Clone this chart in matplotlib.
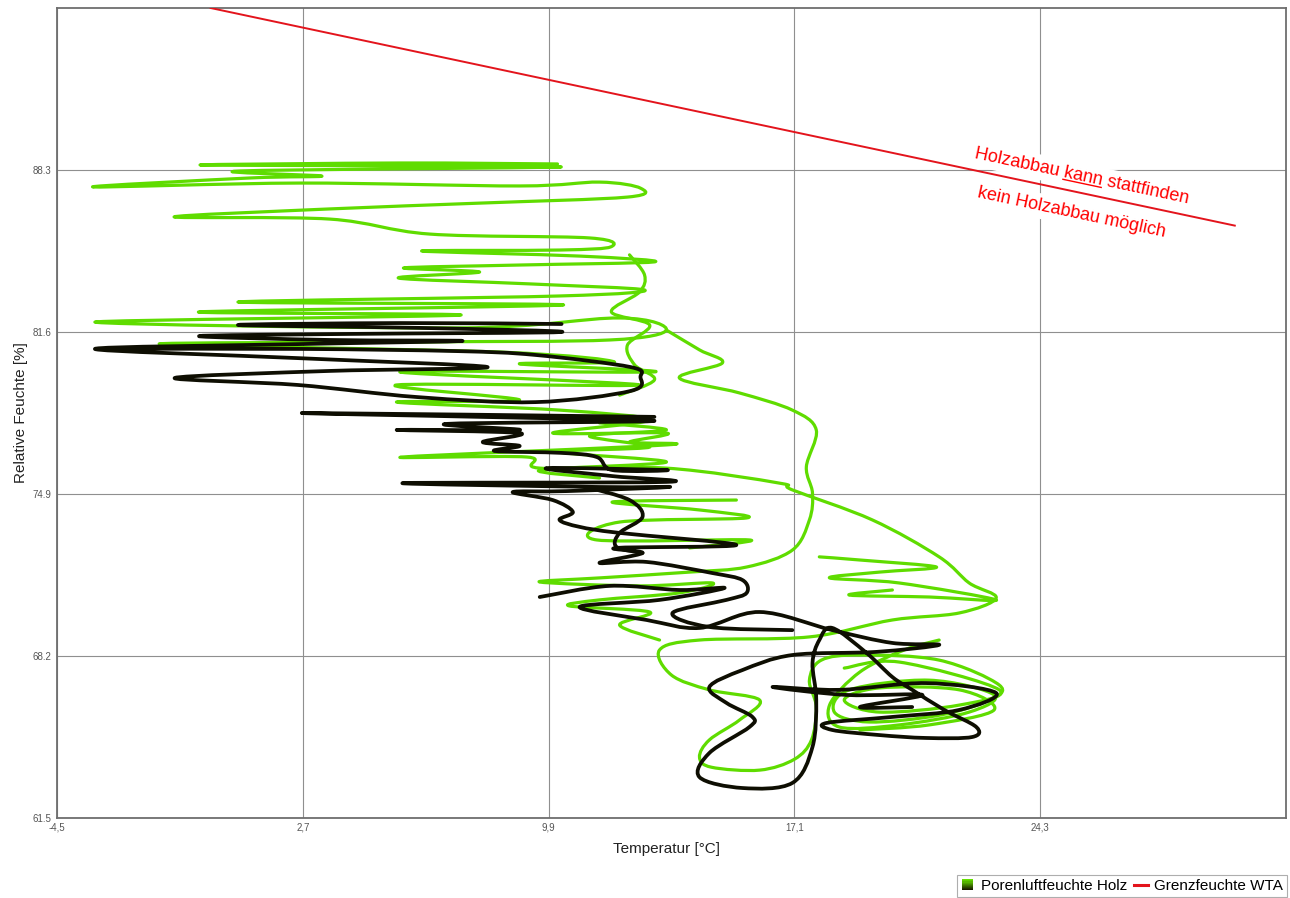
import numpy as np
import matplotlib
matplotlib.use("Agg")
import matplotlib.pyplot as plt
import matplotlib.colors as mcolors
from matplotlib.legend_handler import HandlerBase
from matplotlib.patches import Rectangle, Patch, PathPatch
from matplotlib.path import Path
from matplotlib.lines import Line2D

plt.rcParams['font.family'] = ['Liberation Sans', 'DejaVu Sans']

# ---------------------------------------------------------------------------
# Measured pore-air humidity in timber vs. temperature (hourly trajectory)
# ---------------------------------------------------------------------------
green_1_temp = [10.16, 5.54, -0.31, 5.54, 10.16, 0.86, 3.26, 1.15, -3.45, 2.61,
                9.05, 11.39, 12.59, 12.21, 7.88, 3.49, -1.07, 3.49, 6.42, 11.10,
                11.72, 10.22, 6.18, 10.81, 13.00, 9.05, 5.66, 7.88, 5.51, 9.34,
                12.71, 10.22, 0.80, 10.34, -0.34, 7.32, -3.39, 7.30, 11.98, 13.35,
                11.69, 6.12, -1.49, 8.47, 11.83, 9.05, 13.00, 5.54, 12.56, 5.45,
                9.05, 5.45, 10.22, 12.86, 10.02, 13.35, 12.27, 13.35, 5.63, 9.26,
                9.64, 13.35, 16.66, 17.04, 19.38, 21.34, 22.22, 23.01, 21.93, 19.97,
                17.54, 14.32, 13.15, 13.50, 14.61, 16.08, 15.49, 14.61, 14.32, 14.67,
                16.08, 17.10, 17.60, 17.74, 17.54, 17.89, 19.02, 21.34, 23.10, 22.81,
                21.34, 19.29, 18.27, 18.71, 21.05, 22.95, 22.22, 20.17, 18.42, 18.13,
                19.02, 20.32, 21.34]
green_1_rh = [88.55, 88.59, 88.51, 88.47, 88.42, 88.26, 88.05, 87.97, 87.60, 87.76,
              87.64, 87.80, 87.55, 87.18, 86.93, 86.69, 86.36, 86.27, 85.65, 85.49,
              85.12, 84.99, 84.95, 84.74, 84.50, 84.37, 84.25, 84.08, 83.83, 83.59,
              83.34, 83.09, 82.84, 82.72, 82.43, 82.30, 82.01, 81.77, 82.18, 81.68,
              81.27, 81.19, 81.10, 80.77, 80.36, 80.28, 79.95, 79.95, 79.41, 79.41,
              78.79, 78.70, 78.37, 77.96, 77.42, 77.42, 77.05, 76.93, 76.43, 76.43,
              75.97, 75.97, 75.35, 75.07, 73.83, 72.30, 71.22, 70.60, 69.98, 69.69,
              68.99, 68.86, 68.45, 67.41, 66.80, 66.38, 65.55, 64.73, 64.02, 63.60,
              63.48, 63.93, 64.73, 66.09, 67.20, 68.03, 68.24, 68.03, 67.00, 66.38,
              65.75, 65.47, 65.88, 66.80, 67.20, 66.59, 65.88, 65.35, 65.26, 66.17,
              67.54, 68.45, 68.86]

green_2_temp = [13.35, 14.32, 14.99, 13.73, 15.49, 17.04, 17.74, 17.45, 17.63, 17.54,
                17.04, 15.70, 14.03, 11.39, 9.64, 12.56, 14.70, 13.73, 11.39, 10.51,
                12.86, 11.98, 13.15]
green_2_rh = [81.68, 80.86, 80.32, 79.70, 79.08, 78.37, 77.55, 76.02, 74.94, 73.83,
              72.58, 71.88, 71.67, 71.43, 71.26, 71.10, 71.22, 70.81, 70.52, 70.27,
              70.02, 69.48, 68.86]

green_3_temp = [17.83, 19.02, 21.26, 19.59, 18.13, 20.17, 23.01, 21.05, 18.71, 19.97]
green_3_rh = [72.30, 72.17, 71.88, 71.67, 71.43, 71.22, 70.52, 70.64, 70.72, 70.93]

green_4_temp = [15.40, 11.77, 14.32, 15.70, 11.98, 11.31, 15.78, 14.03]
green_4_rh = [74.65, 74.57, 74.24, 73.91, 73.74, 73.00, 73.00, 72.67]

green_5_temp = [12.27, 12.71, 12.56, 11.74, 12.86, 12.21, 12.42, 13.00, 11.98]
green_5_rh = [84.79, 83.96, 83.25, 82.43, 81.89, 81.06, 80.24, 79.62, 78.99]

green_6_temp = [11.39, 13.35, 11.10, 12.86, 10.22, 13.35, 9.64, 11.39]
green_6_rh = [77.84, 77.55, 77.30, 76.84, 76.64, 76.22, 75.89, 75.56]

green_7_temp = [18.56, 20.17, 23.10, 21.93, 19.59, 18.56, 19.59, 21.93, 22.95, 21.05, 19.02]
green_7_rh = [67.70, 67.95, 66.80, 66.17, 65.88, 66.38, 66.88, 66.80, 65.97, 65.35, 65.14]

black_1_temp = [10.28, 5.54, 0.80, 6.12, 10.28, 4.08, -0.34, 3.49, 7.38, 2.61,
                -3.39, 2.55, 8.11, 3.49, -1.05, 2.55, 6.04, 9.52, 12.30, 12.59,
                12.30, 9.52, 7.21, 2.61, -2.95]
black_1_rh = [81.93, 81.97, 81.89, 81.77, 81.60, 81.52, 81.43, 81.27, 81.23, 81.10,
              80.90, 80.52, 80.15, 79.99, 79.70, 79.41, 78.91, 78.70, 79.16, 79.74,
              80.15, 80.65, 80.81, 80.90, 80.90]

black_2_temp = [13.00, 2.79, 7.88, 13.00, 6.92, 9.05, 5.45, 9.05, 7.97, 9.05,
                8.32, 10.28, 11.31, 11.77, 13.35, 9.84, 11.77, 13.35, 5.63, 11.39,
                13.44, 10.43, 8.85, 10.02, 10.61, 10.22, 10.81, 11.98, 15.40, 11.89,
                12.65, 11.39, 12.77, 14.70, 15.58, 15.70, 15.11, 13.53, 14.61, 17.04]
black_2_rh = [78.09, 78.25, 78.09, 77.92, 77.80, 77.55, 77.55, 77.42, 77.05, 76.89,
              76.68, 76.60, 76.43, 75.89, 75.89, 75.97, 75.64, 75.40, 75.35, 75.19,
              75.19, 75.02, 74.98, 74.65, 74.16, 73.83, 73.54, 73.29, 72.79, 72.67,
              72.46, 72.05, 72.09, 71.63, 71.34, 70.81, 70.52, 69.98, 69.40, 69.27]

black_3_temp = [9.64, 11.69, 13.73, 15.05, 13.15, 10.81, 12.77, 14.32, 16.08, 18.21,
                19.97, 21.34, 19.50, 17.04, 15.58, 14.61, 15.11, 15.87, 15.78, 14.61,
                14.32, 15.58, 17.04, 17.63, 17.74, 17.63, 17.83, 18.21, 19.21, 19.97,
                20.55, 21.49, 22.43, 22.31, 20.96, 19.59, 18.21, 18.04, 19.97, 21.93,
                23.01, 20.96, 18.42, 16.46, 18.62, 20.85, 19.02, 20.55]
black_3_rh = [70.64, 71.10, 70.93, 71.01, 70.52, 70.23, 69.69, 69.36, 70.02, 69.27,
              68.74, 68.66, 68.37, 68.24, 67.62, 66.92, 66.26, 65.68, 65.26, 64.19,
              63.19, 62.74, 62.95, 64.44, 66.38, 67.91, 68.86, 69.36, 68.33, 67.33,
              66.80, 65.97, 65.26, 64.85, 64.81, 64.93, 65.14, 65.43, 65.68, 65.97,
              66.67, 67.08, 66.80, 66.92, 66.59, 66.59, 66.09, 66.09]

black_4_temp = [11.01, 12.27, 12.65, 11.98, 11.89, 12.65]
black_4_rh = [75.19, 74.65, 73.95, 73.29, 72.71, 72.46]

# WTA limit humidity for wood decay
wta_temp = [0.0, 30.0]
wta_rh = [95.0, 86.0]

x_ticks = [-4.5, 2.7, 9.9, 17.1, 24.3]
x_tick_labels = ['-4,5', '2,7', '9,9', '17,1', '24,3']
y_ticks = [61.5, 68.2, 74.9, 81.6, 88.3]
y_tick_labels = ['61.5', '68.2', '74.9', '81.6', '88.3']

GREEN = '#5fdc00'
DARK = '#0e0e02'
RED = '#e3141c'


def smooth_path(xs, ys):
    """Cubic Bezier path passing through every reading (Catmull-Rom tangents)."""
    p = np.column_stack([xs, ys]).astype(float)
    ext = np.vstack([p[0], p, p[-1]])
    verts = [p[0]]
    codes = [Path.MOVETO]
    for i in range(len(p) - 1):
        p0, p1, p2, p3 = ext[i], ext[i + 1], ext[i + 2], ext[i + 3]
        c1 = p1 + (p2 - p0) / 6.0
        c2 = p2 - (p3 - p1) / 6.0
        verts += [c1, c2, p2]
        codes += [Path.CURVE4] * 3
    return Path(np.array(verts), codes)


fig = plt.figure(figsize=(12.9, 8.98), dpi=100)
ax = fig.add_axes([57 / 1290, 80 / 898, 1229 / 1290, 810 / 898])
ax.set_xlim(-4.5, 31.5)
ax.set_ylim(61.5, 95.0)

ax.set_xticks(x_ticks)
ax.set_xticklabels(x_tick_labels)
ax.set_yticks(y_ticks)
ax.set_yticklabels(y_tick_labels)
ax.tick_params(axis='both', length=0, labelsize=7, labelcolor='#555555')
ax.tick_params(axis='x', pad=3)
ax.tick_params(axis='y', pad=4)
ax.grid(True, color='#8f8f8f', linewidth=0.8)
ax.set_axisbelow(True)
for sp in ax.spines.values():
    sp.set_color('#6e6e6e')
    sp.set_linewidth(1.3)

green_series = [(green_1_temp, green_1_rh), (green_2_temp, green_2_rh),
                (green_3_temp, green_3_rh), (green_4_temp, green_4_rh),
                (green_5_temp, green_5_rh), (green_6_temp, green_6_rh),
                (green_7_temp, green_7_rh)]
black_series = [(black_1_temp, black_1_rh), (black_2_temp, black_2_rh),
                (black_3_temp, black_3_rh), (black_4_temp, black_4_rh)]

for t, h in green_series:
    ax.add_patch(PathPatch(smooth_path(t, h), fill=False, edgecolor=GREEN,
                           lw=2.3, joinstyle='round', capstyle='round', zorder=3))
for t, h in black_series:
    ax.add_patch(PathPatch(smooth_path(t, h), fill=False, edgecolor=DARK,
                           lw=2.7, joinstyle='round', capstyle='round', zorder=4))

ax.plot(wta_temp, wta_rh, color=RED, lw=1.4, zorder=6, clip_on=True)

ax.set_xlabel('Temperatur [°C]', fontsize=11, color='#222222')
ax.set_ylabel('Relative Feuchte [%]', fontsize=11, color='#222222')
ax.xaxis.set_label_coords(0.4963, -0.0296)
ax.yaxis.set_label_coords(-0.024, 0.5)

# Annotation on both sides of the limit line
angle = -12.0
txt_kw = dict(color='red', fontsize=13, rotation=angle, rotation_mode='anchor',
              ha='left', va='baseline', zorder=5,
              bbox=dict(facecolor='white', edgecolor='none', pad=3))
ax.text(22.37, 88.80, 'Holzabbau kann stattfinden', **txt_kw)
ax.text(22.43, 87.18, 'kein Holzabbau möglich', **txt_kw)

# underline the word "kann"
fig.canvas.draw()
renderer = fig.canvas.get_renderer()
probe_full = fig.text(0, 0, 'Holzabbau kann', fontsize=13)
probe_word = fig.text(0, 0, 'kann', fontsize=13)
w_full = probe_full.get_window_extent(renderer).width
w_word = probe_word.get_window_extent(renderer).width
probe_full.remove()
probe_word.remove()
anchor = ax.transData.transform((22.37, 88.80))
theta = np.deg2rad(angle)
rot = np.array([[np.cos(theta), -np.sin(theta)], [np.sin(theta), np.cos(theta)]])
local = np.array([[w_full - w_word, -2.5], [w_full, -2.5]])
pts = anchor + local @ rot.T
pts_fig = fig.transFigure.inverted().transform(pts)
fig.add_artist(Line2D(pts_fig[:, 0], pts_fig[:, 1], color='red', lw=1.0,
                      transform=fig.transFigure, zorder=7))


class GradientBoxHandler(HandlerBase):
    def __init__(self, top, bottom, steps=10, **kw):
        super().__init__(**kw)
        self.top = np.array(mcolors.to_rgb(top))
        self.bottom = np.array(mcolors.to_rgb(bottom))
        self.steps = steps

    def create_artists(self, legend, orig_handle, xdescent, ydescent,
                       width, height, fontsize, trans):
        side = height * 1.05
        x0 = -xdescent + (width - side) / 2
        y0 = -ydescent + (height - side) / 2
        arts = []
        for i in range(self.steps):
            f = i / (self.steps - 1)
            col = self.bottom * (1 - f) + self.top * f
            arts.append(Rectangle((x0, y0 + side * i / self.steps), side,
                                  side / self.steps + 0.3, facecolor=col,
                                  edgecolor='none', transform=trans))
        return arts


box_proxy = Patch()
red_proxy = Line2D([], [], color=RED, lw=2.2)
leg = fig.legend([box_proxy, red_proxy],
                 ['Porenluftfeuchte Holz', 'Grenzfeuchte WTA'],
                 handler_map={box_proxy: GradientBoxHandler('#66e000', '#1a1a00')},
                 loc='lower right', bbox_to_anchor=(1287 / 1290, 1 / 898),
                 ncol=2, frameon=True, fancybox=False, fontsize=11,
                 handlelength=0.9, handletextpad=0.4, columnspacing=0.5,
                 borderpad=0.25, borderaxespad=0.0)
leg.get_frame().set_edgecolor('#9a9a9a')
leg.get_frame().set_linewidth(0.8)

fig.savefig('out.png', dpi=100, facecolor='white')
